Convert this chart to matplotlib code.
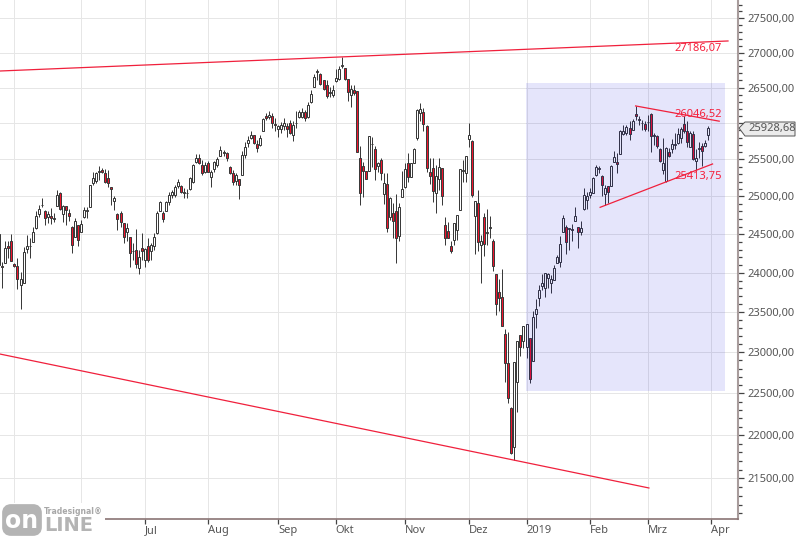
import matplotlib
matplotlib.use("Agg")
import matplotlib.pyplot as plt
from matplotlib.patches import FancyBboxPatch, Polygon, Rectangle
from matplotlib.ticker import FixedLocator, NullFormatter

plt.rcParams["font.family"] = ["Noto Sans", "DejaVu Sans"]

opens = [
    24100, 24085, 24125, 24340, 24410, 24115, 24090, 23845, 23865, 24310,
    24340, 24395, 24585, 24765, 24890, 24810, 24725, 24745, 24705, 24875,
    25040, 24765, 24875, 24775, 24600, 24460, 24615, 24535, 24720, 24805,
    24855, 25185, 25205, 25330, 25350, 25320, 25250, 25120, 24945, 24765,
    24775, 24645, 24525, 24460, 24275, 24300, 24065, 24325, 24160, 24350,
    24285, 24350, 24520, 24800, 24785, 24800, 24920, 25025, 25020, 25140,
    25140, 25045, 25050, 25095, 25190, 25465, 25515, 25430, 25335, 25455,
    25255, 25365, 25430, 25550, 25605, 25585, 25400, 25320, 25205, 25230,
    25295, 25560, 25720, 25790, 25830, 25715, 25700, 25885, 26100, 26090,
    26105, 25990, 25920, 25920, 25965, 25965, 26005, 25840, 25995, 26080,
    26080, 26160, 26080, 26290, 26510, 26725, 26695, 26600, 26530, 26420,
    26400, 26590, 26625, 26805, 26775, 26625, 26400, 26470, 26445, 25515,
    25410, 25340, 25345, 25705, 25640, 25415, 25490, 25035, 25170, 24730,
    24775, 24810, 24480, 24990, 25125, 25445, 25255, 25445, 25790, 26145,
    26155, 25965, 25325, 25390, 25045, 25240, 25390, 24615, 24540, 24340,
    24425, 24555, 24825, 25340, 25310, 25780, 25755, 24735, 24915, 24355,
    24725, 24515, 24585, 24410, 23990, 23760, 23695, 23230, 22875, 22320,
    21860, 22635, 23210, 23135, 23060, 23175, 22890, 23475, 23675, 23835,
    23810, 23935, 23870, 23905, 24125, 24140, 24535, 24600, 24570, 24570,
    24680, 24595, 24525, 24830, 24955, 25020, 25045, 25285, 25375, 25270,
    25030, 25135, 25135, 25470, 25460, 25570, 25845, 25860, 25930, 25905,
    26125, 26050, 25995, 25985, 26010, 26130, 25820, 25815, 25640, 25350,
    25210, 25595, 25640, 25695, 25720, 25790, 25985, 25885, 25675, 25845,
    25480, 25645, 25685, 25690, 25835,
]
highs = [
    24580, 24140, 24405, 24405, 24505, 24125, 24185, 24010, 24330, 24490,
    24445, 24590, 24800, 24885, 24985, 24820, 24800, 24840, 24785, 25085,
    25065, 24885, 24875, 24830, 24610, 24710, 24620, 24690, 24865, 24855,
    25155, 25335, 25335, 25410, 25380, 25365, 25355, 25130, 25005, 24775,
    24800, 24645, 24645, 24460, 24380, 24565, 24295, 24515, 24315, 24445,
    24380, 24515, 24805, 24945, 24800, 24945, 25065, 25085, 25155, 25230,
    25155, 25110, 25095, 25265, 25435, 25580, 25580, 25490, 25470, 25480,
    25355, 25480, 25535, 25690, 25630, 25605, 25410, 25355, 25310, 25230,
    25615, 25735, 25815, 25885, 25840, 25770, 25830, 26070, 26140, 26170,
    26135, 26075, 25980, 26020, 26075, 26005, 26050, 26030, 26165, 26190,
    26210, 26190, 26300, 26465, 26695, 26760, 26700, 26610, 26600, 26510,
    26530, 26760, 26810, 26930, 26775, 26625, 26540, 26530, 26445, 25680,
    25470, 25340, 25825, 25810, 25680, 25470, 25515, 25310, 25310, 24990,
    24915, 25035, 24915, 25340, 25455, 25585, 25455, 25655, 26200, 26280,
    26210, 25980, 25515, 25515, 25420, 25515, 25390, 24720, 24665, 24415,
    24650, 24755, 25375, 25490, 25540, 25995, 25770, 24945, 25090, 24490,
    24780, 24830, 24735, 24435, 23990, 23925, 24050, 23290, 23255, 22340,
    22880, 23135, 23215, 23330, 23350, 23175, 23520, 23660, 23840, 23980,
    24000, 23995, 23965, 24095, 24225, 24480, 24755, 24625, 24580, 24640,
    24860, 24595, 24670, 25110, 25065, 25110, 25260, 25420, 25410, 25290,
    25155, 25140, 25420, 25620, 25585, 25905, 25975, 25975, 26025, 26055,
    26240, 26095, 26045, 26025, 26115, 26140, 25860, 25840, 25650, 25790,
    25665, 25650, 25780, 25860, 25930, 25940, 26095, 26025, 25885, 25885,
    25640, 25745, 25720, 25760, 25955,
]
lows = [
    24010, 23810, 24125, 24185, 24155, 24075, 23795, 23535, 23865, 24250,
    24190, 24395, 24565, 24720, 24865, 24620, 24645, 24635, 24655, 24875,
    24820, 24665, 24620, 24675, 24250, 24460, 24350, 24535, 24710, 24710,
    24855, 25160, 25175, 25220, 25310, 25175, 25130, 24885, 24820, 24555,
    24590, 24390, 24405, 24075, 24160, 24065, 23990, 24160, 24075, 24140,
    24160, 24295, 24505, 24800, 24665, 24800, 24885, 24975, 24995, 25110,
    25040, 24980, 24980, 25085, 25175, 25455, 25435, 25290, 25310, 25335,
    25120, 25335, 25400, 25550, 25550, 25480, 25300, 25155, 25160, 24960,
    25295, 25515, 25665, 25780, 25710, 25605, 25690, 25885, 26045, 26060,
    25935, 25890, 25810, 25865, 25910, 25810, 25855, 25750, 25935, 26075,
    26075, 26030, 26075, 26280, 26510, 26610, 26530, 26465, 26350, 26370,
    26370, 26575, 26610, 26775, 26610, 26305, 26225, 26395, 25600, 24890,
    24990, 25235, 25345, 25400, 25225, 25330, 25220, 24905, 24535, 24685,
    24450, 24125, 24415, 24990, 25115, 25195, 25255, 25445, 25760, 26030,
    25890, 25330, 25170, 24925, 24785, 25080, 24880, 24360, 24455, 24260,
    24360, 24425, 24825, 25195, 25195, 25665, 24990, 24240, 24285, 23875,
    24215, 24360, 24445, 24020, 23460, 23510, 23325, 22640, 22390, 21780,
    21710, 22275, 22955, 23050, 22925, 22630, 22890, 23300, 23580, 23780,
    23695, 23810, 23745, 23905, 24120, 24075, 24535, 24240, 24300, 24415,
    24680, 24325, 24490, 24815, 24830, 24980, 25045, 25275, 25310, 25010,
    24890, 24910, 25135, 25460, 25310, 25570, 25840, 25840, 25760, 25900,
    26045, 25975, 25905, 25885, 25885, 25605, 25700, 25650, 25470, 25305,
    25200, 25535, 25585, 25640, 25710, 25720, 25860, 25675, 25665, 25490,
    25355, 25515, 25410, 25675, 25770,
]
closes = [
    24500, 24070, 24315, 24325, 24155, 24085, 23915, 23925, 24265, 24350,
    24350, 24535, 24735, 24830, 24880, 24710, 24760, 24710, 24715, 25015,
    24830, 24875, 24820, 24745, 24355, 24670, 24420, 24630, 24815, 24815,
    25150, 25245, 25310, 25340, 25335, 25200, 25175, 25095, 24985, 24695,
    24655, 24460, 24580, 24250, 24285, 24115, 24205, 24280, 24305, 24170,
    24360, 24460, 24785, 24920, 24695, 24920, 25020, 25065, 25120, 25200,
    25065, 25055, 25040, 25245, 25425, 25525, 25445, 25310, 25420, 25335,
    25325, 25460, 25500, 25630, 25585, 25515, 25310, 25195, 25295, 25160,
    25560, 25665, 25770, 25830, 25720, 25655, 25790, 26060, 26070, 26115,
    25995, 25975, 25965, 25980, 26005, 25920, 25865, 25980, 26005, 26160,
    26160, 26075, 26255, 26405, 26650, 26735, 26555, 26475, 26385, 26430,
    26460, 26640, 26760, 26815, 26625, 26440, 26485, 26425, 25600, 25050,
    25340, 25235, 25820, 25715, 25375, 25445, 25310, 25185, 24575, 24985,
    24680, 24450, 24860, 25105, 25375, 25265, 25455, 25645, 26190, 26200,
    25990, 25390, 25280, 25075, 25270, 25400, 25005, 24455, 24455, 24285,
    24645, 24750, 25365, 25350, 25540, 25835, 25025, 24940, 24395, 24415,
    24370, 24525, 24595, 24085, 23600, 23675, 23325, 22865, 22440, 21790,
    22880, 23135, 23060, 23320, 23345, 22680, 23440, 23540, 23785, 23875,
    24000, 23990, 23915, 24065, 24205, 24370, 24715, 24400, 24580, 24550,
    24740, 24530, 24580, 25020, 25000, 25065, 25245, 25400, 25385, 25155,
    25110, 25065, 25415, 25535, 25435, 25885, 25885, 25945, 25850, 26030,
    26095, 26060, 26005, 25915, 26020, 25815, 25830, 25685, 25475, 25445,
    25650, 25550, 25710, 25705, 25845, 25920, 25885, 25745, 25860, 25500,
    25515, 25655, 25620, 25730, 25935,
]

# first trading day of each month, as candle index
month_ticks = [5, 27, 48, 69, 92, 111, 134, 155, 174, 195, 214, 235]
month_labels = ["", "", "Jul", "Aug", "Sep", "Okt", "Nov", "Dez", "2019", "Feb", "Mrz", "Apr"]
price_ticks = [21500, 22000, 22500, 23000, 23500, 24000, 24500, 25000, 25500, 26000, 26500, 27000, 27500]
# 26000 sits behind the last price tag
price_labels = ["21500,00", "22000,00", "22500,00", "23000,00", "23500,00", "24000,00", "24500,00",
                "25000,00", "25500,00", "", "26500,00", "27000,00", "27500,00"]

# trend lines as (index, price) pairs
top_line = ([0.2, 240.5], [26735, 27168])
bottom_line = ([0.2, 214.4], [22979, 21390])
wedge_upper = ([210, 237.6], [26240, 26027])
wedge_lower = ([198.3, 235.4], [24855, 25438])
last_price = "25928,68"

RED = "#f0142d"
DARK = "#3a3a3a"
GRID = "#e6e6e6"

fig = plt.figure(figsize=(8.0, 5.37), dpi=100)
ax = fig.add_axes([0, 18 / 537, 738 / 800, 519 / 537])
ax.set_yscale("log")
ax.set_xlim(0.23, 243.8)
ax.set_ylim(21038, 27770)

ax.yaxis.set_major_locator(FixedLocator(price_ticks))
ax.yaxis.set_minor_locator(FixedLocator([p for p in range(21100, 27800, 100) if p % 500]))
ax.yaxis.set_minor_formatter(NullFormatter())
ax.set_yticks(price_ticks)
ax.set_yticklabels(price_labels)
ax.yaxis.tick_right()
ax.tick_params(axis="y", which="major", length=5.5 * 0.72, width=0.9, color="#444444",
               labelsize=8, labelcolor="#555555", pad=3)
ax.tick_params(axis="y", which="minor", length=4 * 0.72, width=0.9, color="#444444")

ax.set_xticks(month_ticks)
ax.set_xticklabels(month_labels, ha="left")
ax.tick_params(axis="x", length=3.6, width=0.9, color="#444444", labelsize=8,
               labelcolor="#555555", pad=0.5)

ax.grid(True, which="major", color=GRID, lw=0.72)
ax.set_axisbelow(True)
for side in ["top", "left"]:
    ax.spines[side].set_visible(False)
ax.spines["right"].set_color("#a89c9c")
ax.spines["right"].set_linewidth(1.5)
ax.spines["bottom"].set_color("#8a7474")
ax.spines["bottom"].set_linewidth(1.2)

# candles
idx = list(range(len(closes)))
ax.vlines(idx, lows, highs, color=DARK, lw=0.72, zorder=3)
for i in idx:
    o, c = opens[i], closes[i]
    face = RED if c < o else "white"
    ax.bar(i, abs(c - o), bottom=min(o, c), width=0.66, color=face, edgecolor=DARK,
           linewidth=0.72, zorder=4)

# shaded box sits over the candles, that is why they look bluish in there
ax.add_patch(Rectangle((173.8, 22527), 65.7, 26565 - 22527, facecolor="#0000dc", alpha=0.10,
                       edgecolor="none", zorder=5))

for xs, ys in [top_line, bottom_line, wedge_upper, wedge_lower]:
    ax.plot(xs, ys, color="#f0203c", lw=0.9, zorder=6)

# pixel overlay for price tags and logo
over = fig.add_axes([0, 0, 1, 1])
over.set_xlim(0, 800)
over.set_ylim(537, 0)
over.axis("off")
for txt, y in [("27186,07", 49), ("26046,52", 114), ("25413,75", 176)]:
    over.text(722, y, txt, color="#f5203c", fontsize=8, ha="right", va="center")

over.add_patch(Polygon([(739, 128), (745, 122), (795, 122), (795, 136), (745, 136)],
                       closed=True, facecolor="#ebebeb", edgecolor="#555555", lw=0.7))
over.text(748, 128.5, last_price, color="#555555", fontsize=8, ha="left", va="center")

over.add_patch(Rectangle((0, 503), 105, 34, facecolor="white", edgecolor="none"))
over.add_patch(FancyBboxPatch((7, 509), 30, 22, boxstyle="round,pad=0,rounding_size=4",
                              mutation_aspect=1, facecolor="#b4b4b4", edgecolor="#b4b4b4", lw=7))
over.text(22, 521, "on", color="white", fontsize=17, fontweight="bold", family="DejaVu Sans",
          ha="center", va="center")
over.text(44, 525.5, "LINE", color="#b4b4b4", fontsize=14, fontweight="bold", family="DejaVu Sans",
          ha="left", va="center")
over.text(44, 511, "Tradesignal\u00ae", color="#a8a8a8", fontsize=5.6, fontweight="bold",
          family="DejaVu Sans", ha="left", va="center")

fig.savefig("out.png", dpi=100)
